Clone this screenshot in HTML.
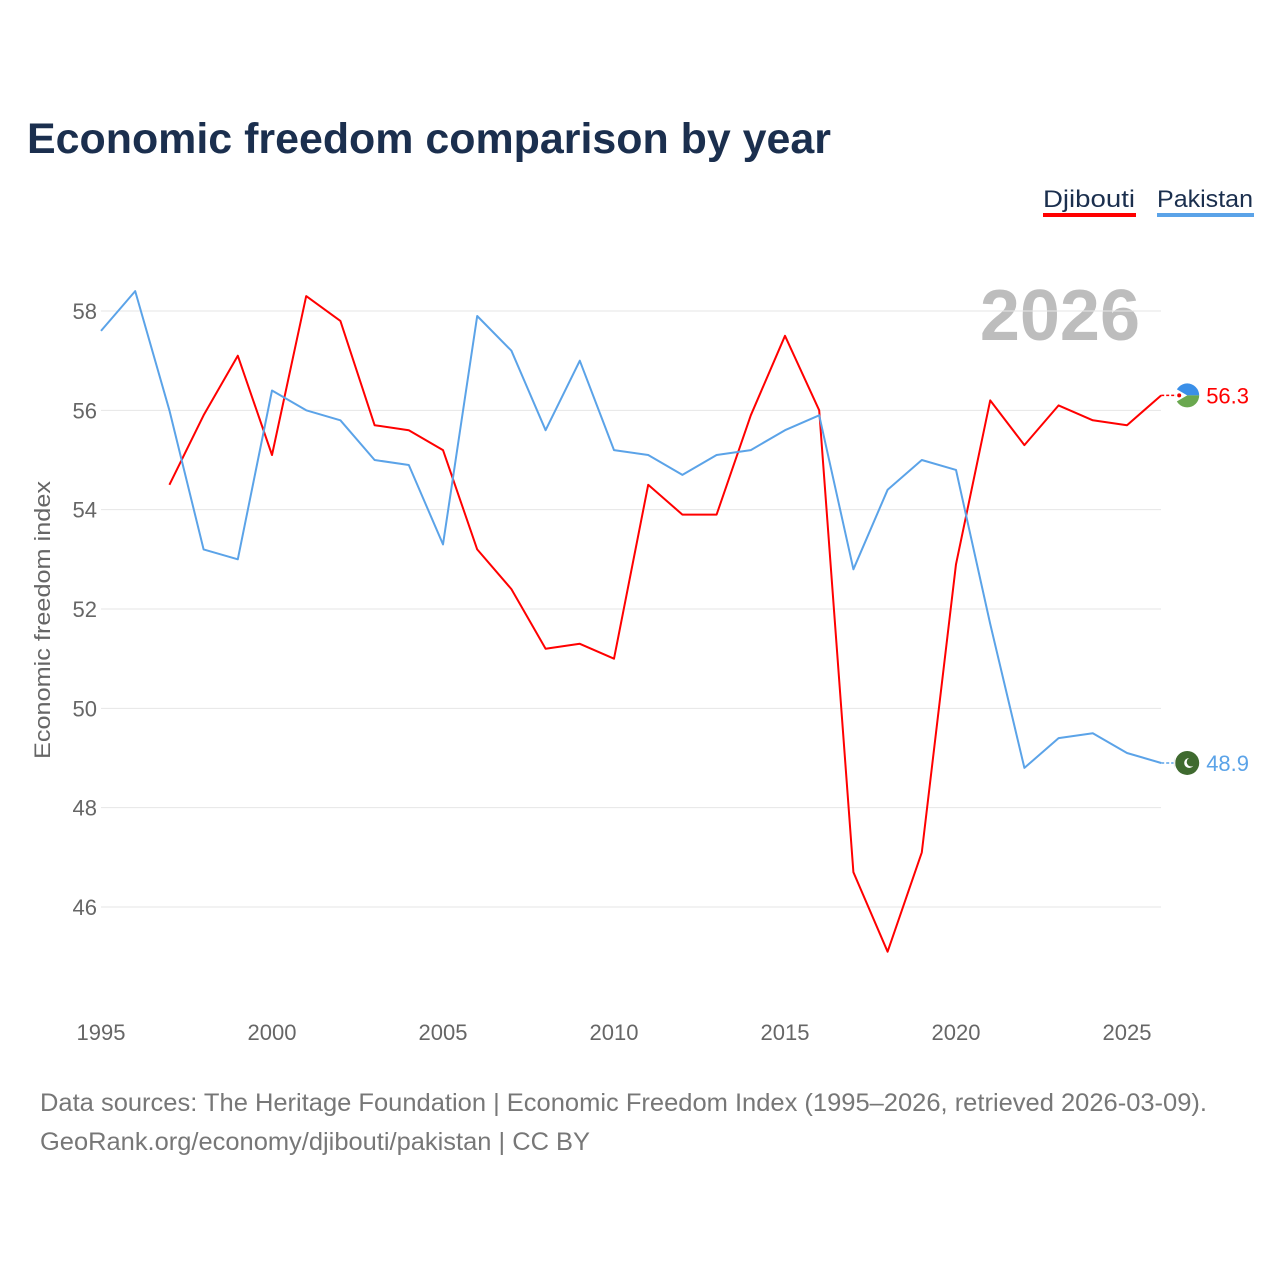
<!DOCTYPE html>
<html><head><meta charset="utf-8">
<style>
html,body{margin:0;padding:0;background:#fff;}
body{width:1280px;height:1280px;position:relative;font-family:"Liberation Sans",sans-serif;overflow:hidden;}
</style></head>
<body>
<svg id="chart" width="1280" height="1280" xmlns="http://www.w3.org/2000/svg" style="position:absolute;left:0;top:0">
<text x="27" y="153" font-size="43" font-weight="bold" fill="#1b2f4e" textLength="804" lengthAdjust="spacingAndGlyphs">Economic freedom comparison by year</text>
<g>
<text x="1043" y="207" font-size="24" fill="#1b2f4e" textLength="92" lengthAdjust="spacingAndGlyphs">Djibouti</text>
<rect x="1043" y="213" width="93" height="4" fill="#ff0000"/>
</g>
<g>
<text x="1157" y="207" font-size="24" fill="#1b2f4e" textLength="96" lengthAdjust="spacingAndGlyphs">Pakistan</text>
<rect x="1157" y="213" width="97" height="4" fill="#5ba3e8"/>
</g>
<text x="1140" y="340" text-anchor="end" font-size="72" font-weight="bold" fill="#bdbdbd">2026</text>
<g id="grid"></g><g id="yticks"></g><g id="xticks"></g><g id="lines"></g>
<text transform="translate(50,620) rotate(-90)" text-anchor="middle" font-size="22" fill="#666" textLength="278" lengthAdjust="spacingAndGlyphs">Economic freedom index</text>
<text x="40" y="1111" font-size="25" fill="#777" textLength="1167" lengthAdjust="spacingAndGlyphs">Data sources: The Heritage Foundation | Economic Freedom Index (1995–2026, retrieved 2026-03-09).</text>
<text x="40" y="1150" font-size="25" fill="#777" textLength="550" lengthAdjust="spacingAndGlyphs">GeoRank.org/economy/djibouti/pakistan | CC BY</text>
</svg>
<script>
const years = [1995,1996,1997,1998,1999,2000,2001,2002,2003,2004,2005,2006,2007,2008,2009,2010,2011,2012,2013,2014,2015,2016,2017,2018,2019,2020,2021,2022,2023,2024,2025,2026];
const pakistan = [57.6,58.4,56.0,53.2,53.0,56.4,56.0,55.8,55.0,54.9,53.3,57.9,57.2,55.6,57.0,55.2,55.1,54.7,55.1,55.2,55.6,55.9,52.8,54.4,55.0,54.8,51.7,48.8,49.4,49.5,49.1,48.9];
const djibouti = [null,null,54.5,55.9,57.1,55.1,58.3,57.8,55.7,55.6,55.2,53.2,52.4,51.2,51.3,51.0,54.5,53.9,53.9,55.9,57.5,56.0,46.7,45.1,47.1,52.9,56.2,55.3,56.1,55.8,55.7,56.3];
const yTickVals = [46,48,50,52,54,56,58];
const xTickVals = [1995,2000,2005,2010,2015,2020,2025];
const NS="http://www.w3.org/2000/svg";
const xs = y => 101 + (y-1995)*(1127-101)/30;
const ys = v => 311 + (58-v)*(907-311)/12;
function mk(tag, attrs, parent){const e=document.createElementNS(NS,tag);for(const k in attrs)e.setAttribute(k,attrs[k]);parent.appendChild(e);return e;}
const grid=document.getElementById('grid'), yt=document.getElementById('yticks'), xt=document.getElementById('xticks'), lines=document.getElementById('lines');
yTickVals.forEach(v=>{
  const l=mk('line',{x1:101,x2:1161,y1:ys(v),y2:ys(v),stroke:'#e6e6e6','stroke-width':1},grid);
  
  
  const t=mk('text',{x:97,y:ys(v)+8,'text-anchor':'end','font-size':22,fill:'#666'},yt);
  t.textContent=v;
  
  
});
xTickVals.forEach(v=>{
  const t=mk('text',{x:xs(v),y:1040,'text-anchor':'middle','font-size':22,fill:'#666'},xt);
  t.textContent=v;
  
  
});
function series(vals,color,name){
  let d='';let started=false;
  vals.forEach((v,i)=>{if(v==null)return;d+=(started?'L':'M')+xs(years[i]).toFixed(1)+','+ys(v).toFixed(1);started=true;});
  const p=mk('path',{d:d,fill:'none',stroke:color,'stroke-width':2,'stroke-linejoin':'round'},lines);
  
  
  const last=vals[vals.length-1];
  const cx=xs(years[years.length-1])+26, cy=ys(last);
  mk('line',{x1:xs(2026),x2:cx-12,y1:cy,y2:cy,stroke:color,'stroke-width':1.5,'stroke-dasharray':'3,2'},lines);
  const g=mk('g',{},lines);
  
  
  if(name==='djibouti'){
    mk('path',{d:`M${cx-12},${cy} A12,12 0 0,1 ${cx+12},${cy} Z`,fill:'#3a8fe8'},g);
    mk('path',{d:`M${cx-12},${cy} A12,12 0 0,0 ${cx+12},${cy} Z`,fill:'#6aa84f'},g);
    mk('path',{d:`M${cx-12},${cy-7} L${cx},${cy} L${cx-12},${cy+7} Z`,fill:'#fff'},g);
    mk('circle',{cx:cx-8,cy:cy,r:2,fill:'#e00'},g);
  } else {
    mk('circle',{cx:cx,cy:cy,r:12,fill:'#3f6a2f'},g);
    mk('path',{d:`M${cx-12},${cy-6} A12,12 0 0,0 ${cx-12},${cy+6} Z`,fill:'#eee'},g);
    mk('circle',{cx:cx+2,cy:cy,r:5,fill:'#fff'},g);
    mk('circle',{cx:cx+4,cy:cy-1,r:4.5,fill:'#3f6a2f'},g);
  }
  const t=mk('text',{x:cx+19,y:cy+8,'font-size':22,fill:color},lines);
  t.textContent=last.toFixed(1);
  
  
}
series(djibouti,'#ff0000','djibouti');
series(pakistan,'#5ba3e8','pakistan');
</script>
</body></html>
